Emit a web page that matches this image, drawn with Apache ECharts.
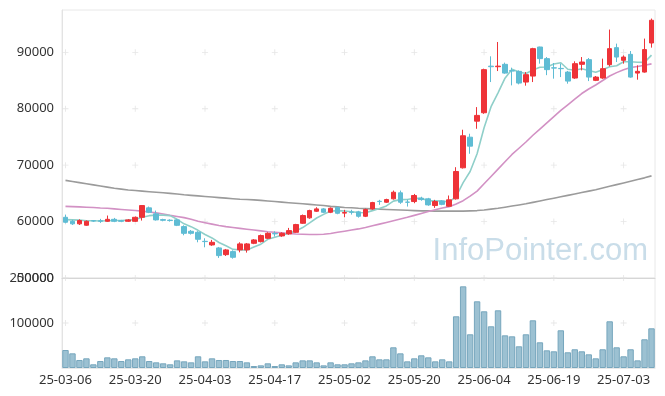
<!DOCTYPE html>
<html><head><meta charset="utf-8">
<script src="https://cdn.jsdelivr.net/npm/echarts@6.0.0/dist/echarts.min.js"></script>
<style>html,body{margin:0;padding:0;background:#fff}#c{width:665px;height:396px}</style>
</head><body><div id="c"></div>
<script>
const dates = ['25-03-06','25-03-07','25-03-10','25-03-11','25-03-12','25-03-13','25-03-14','25-03-17','25-03-18','25-03-19',
'25-03-20','25-03-21','25-03-24','25-03-25','25-03-26','25-03-27','25-03-28','25-03-31','25-04-01','25-04-02',
'25-04-03','25-04-04','25-04-07','25-04-08','25-04-09','25-04-10','25-04-11','25-04-14','25-04-15','25-04-16',
'25-04-17','25-04-18','25-04-21','25-04-22','25-04-23','25-04-24','25-04-25','25-04-28','25-04-29','25-04-30',
'25-05-02','25-05-07','25-05-08','25-05-09','25-05-12','25-05-13','25-05-14','25-05-15','25-05-16','25-05-19',
'25-05-20','25-05-21','25-05-22','25-05-23','25-05-26','25-05-27','25-05-28','25-05-29','25-05-30','25-06-02',
'25-06-04','25-06-05','25-06-09','25-06-10','25-06-11','25-06-12','25-06-13','25-06-16','25-06-17','25-06-18',
'25-06-19','25-06-20','25-06-23','25-06-24','25-06-25','25-06-26','25-06-27','25-06-30','25-07-01','25-07-02',
'25-07-03','25-07-04','25-07-07','25-07-08','25-07-09'];

// [open, close, low, high]
const ohlc = [
[60760,59880,59700,61240],[60050,59600,59400,60300],[59600,60180,59400,60400],[59350,60050,59250,60200],[60150,60100,59950,60250],
[60150,60050,59770,60480],[60050,60400,59950,61070],[60400,60050,59900,60650],[60150,60050,59900,60300],[60050,60300,59950,60450],
[60050,60760,59950,60900],[60760,62840,60180,62900],[62430,61650,61500,62660],[61370,60300,60180,61950],[60350,60230,60050,60500],
[60250,60180,60000,60400],[60300,59340,59200,60400],[59110,57920,57570,59340],[58280,57920,57700,58500],[58100,56860,56330,58300],
[56500,56450,55440,57040],[55860,56330,55700,56750],[55330,53970,53560,55500],[54140,54980,53900,55150],[54680,53670,53430,54900],
[54980,56040,54550,56330],[54980,56040,54500,56200],[56150,56750,56000,56900],[56450,57520,56300,57700],[57040,57920,56900,58100],
[57900,57820,57340,58280],[57460,57920,57300,58100],[57820,58400,57650,58880],[58100,59470,58000,59600],[59700,61070,59600,61250],
[60660,61950,60500,62100],[61830,62250,61700,62540],[62250,61650,61500,62400],[61650,62360,61500,62500],[62500,61470,61300,62650],
[61500,61600,60760,62080],[61700,61650,61240,62080],[61720,60940,60700,61900],[60940,62130,60800,62300],[62250,63370,62100,63500],
[63600,63550,62960,63850],[63430,63900,63300,64050],[64030,65200,63900,65500],[65100,63430,63140,65500],[63450,63430,62660,63900],
[63550,64620,63250,64900],[64140,63900,63700,64400],[64030,62960,62800,64200],[62840,63550,62430,63850],[63650,63050,62900,63800],
[62720,63850,62600,64620],[64030,68880,63900,69640],[69530,75210,69400,76280],[74960,73370,72020,75570],[77800,78820,76450,80290],
[79290,86930,79100,87100],[87550,87450,84730,89290],[87450,87550,86680,91830],[87870,86320,86200,88170],[86750,86680,84140,87280],
[86625,84550,84320,86800],[84730,86040,84090,86500],[85790,90650,84730,90800],[90940,88880,87990,91000],[88880,86930,85950,89160],
[87250,87210,85330,88100],[87150,87100,85610,87990],[86500,84900,84440,86700],[85440,87990,85300,88400],[87870,88280,86800,89160],
[88700,85610,84900,88990],[85030,85610,84900,85800],[85440,87100,85300,88880],[87810,90650,87510,94030],[90830,89160,88280,91540],
[88580,89160,87990,89460],[89640,85610,85500,90230],[86320,86625,85150,87690],[86500,90480,86400,92430],[91650,95680,90830,95980]
];

const ma5 = [60350,60300,60250,60150,60150,60100,60150,60200,60200,60250,
60350,60750,61050,61150,61150,61050,60400,59600,59100,58450,
57700,57100,56300,55720,55080,55000,54940,55500,56000,56850,
57210,57590,57920,58310,58940,59760,60630,61280,61860,61940,
61870,61750,61600,61560,61940,62330,62780,63630,63890,63900,
64120,64120,63670,63690,63620,63460,64460,66910,68870,72030,
76640,80360,82820,85410,86990,86510,86230,86850,87360,87410,
87940,88150,87000,86830,87100,86780,86480,86920,87450,87630,
88340,88340,88240,88210,89510];

const ma20 = [62700,62650,62600,62550,62500,62400,62350,62250,62150,62050,
61950,61850,61700,61550,61350,61100,60900,60700,60400,60050,
59800,59550,59300,59100,58950,58800,58650,58500,58350,58200,
58100,58000,57900,57800,57750,57700,57700,57750,57900,58100,
58300,58500,58700,58950,59250,59550,59850,60150,60450,60750,
61100,61450,61800,62100,62400,62650,63100,63700,64500,65400,
66700,68000,69300,70600,71900,73000,74100,75300,76400,77500,
78600,79700,80700,81700,82700,83500,84200,85000,85800,86400,
86900,87300,87500,87700,87950];

const ma120 = [67300,67100,66900,66700,66500,66300,66100,65900,65750,65600,
65500,65400,65300,65200,65100,65000,64900,64750,64650,64550,
64450,64350,64250,64150,64050,63950,63900,63850,63750,63650,
63550,63450,63350,63250,63150,63050,62950,62850,62700,62600,
62500,62450,62350,62300,62250,62200,62150,62100,62050,62000,
61950,61900,61900,61850,61850,61850,61850,61850,61900,61950,
62050,62200,62350,62550,62750,62950,63150,63400,63650,63900,
64150,64400,64650,64900,65150,65400,65650,65950,66250,66550,
66850,67150,67450,67750,68100];

const volume = [40000,32600,17800,21500,8200,15500,23700,21500,15500,19300,
21500,26000,15500,12600,10400,8200,17000,14800,12600,26000,
14800,21500,17800,17800,15500,15500,12600,4400,5900,10400,
4400,8200,5900,12600,17000,17000,12600,5900,12600,8200,
8200,10400,12600,17000,26000,19300,19300,46000,32600,14800,
21500,28200,23700,14800,19300,14800,114900,181500,74900,148200,
126000,92700,128200,72600,70400,48200,74900,106000,57100,39300,
37100,83800,34900,41600,37100,30400,21500,41600,103800,46000,
26000,41600,17000,63800,88200];

const priceTicks = [50000,60000,70000,80000,90000];
const volumeTicks = [100000];
const labelStep = 10;

const RED = '#ee3338', BLUE = '#5fbcd4';
const plus = 'path://M3,0h1v3h3v1h-3v3h-1v-3h-3v-1h3z';
const markIdx = dates.map((d,i)=>i).filter(i=>i%labelStep===0);
const priceMarks = [], volMarks = [];
markIdx.forEach(i=>{ priceTicks.forEach(v=>priceMarks.push([i,v])); volumeTicks.forEach(v=>volMarks.push([i,v])); });

const chart = echarts.init(document.getElementById('c'), null, {renderer:'canvas'});
const labelFont = {color:'#333', fontSize:13, fontFamily:'Noto Sans'};
const plain = v => String(v);
chart.setOption({
  animation:false,
  backgroundColor:'#fff',
  graphic:[{type:'text', right:17, top:236, z:0, silent:true,
    style:{text:'InfoPointer.com', fill:'#c9dde9', font:'31px "Liberation Sans"'}}],
  grid:[
    {left:62, right:10, top:10, height:268, show:true, borderColor:'#e8e8e8', borderWidth:1},
    {left:62, right:10, top:278, height:90, show:true, borderColor:'#e8e8e8', borderWidth:1}
  ],
  xAxis:[
    {type:'category', gridIndex:0, data:dates, boundaryGap:true,
     axisLine:{show:true, lineStyle:{color:'#d6d6d6'}}, axisTick:{show:false}, axisLabel:{show:false}, splitLine:{show:false}},
    {type:'category', gridIndex:1, data:dates, boundaryGap:true,
     axisLine:{show:true, lineStyle:{color:'#e8e8e8'}}, axisTick:{show:false},
     axisLabel:Object.assign({interval:labelStep-1, margin:6}, labelFont), splitLine:{show:false}}
  ],
  yAxis:[
    {type:'value', gridIndex:0, min:50000, max:97500, interval:10000, scale:true,
     axisLine:{show:true, lineStyle:{color:'#e3e3e3'}}, axisTick:{show:false}, splitLine:{show:false},
     axisLabel:Object.assign({showMaxLabel:false, showMinLabel:true, margin:8, formatter:plain}, labelFont)},
    {type:'value', gridIndex:1, min:0, max:200000, interval:100000,
     axisLine:{show:true, lineStyle:{color:'#e3e3e3'}}, axisTick:{show:false}, splitLine:{show:false},
     axisLabel:Object.assign({showMaxLabel:true, showMinLabel:false, margin:8, formatter:plain}, labelFont)}
  ],
  series:[
    {type:'scatter', xAxisIndex:0, yAxisIndex:0, data:priceMarks, symbol:plus, symbolSize:6, silent:true, z:1,
     itemStyle:{color:'#e0e0e0'}},
    {type:'scatter', xAxisIndex:1, yAxisIndex:1, data:volMarks, symbol:plus, symbolSize:6, silent:true, z:1,
     itemStyle:{color:'#e0e0e0'}},
    {type:'line', name:'MA120', data:ma120, showSymbol:false, silent:true, z:2, lineStyle:{color:'#9b9b9b', width:1.6}},
    {type:'line', name:'MA20', data:ma20, showSymbol:false, silent:true, z:2, lineStyle:{color:'#d291c4', width:1.6}},
    {type:'line', name:'MA5', data:ma5, showSymbol:false, silent:true, z:2, lineStyle:{color:'#8fcfc9', width:1.6}},
    {type:'candlestick', data:ohlc, barWidth:'74%', z:3,
     itemStyle:{color:RED, color0:BLUE, borderColor:RED, borderColor0:BLUE, borderWidth:1}},
    {type:'bar', xAxisIndex:1, yAxisIndex:1, data:volume, barCategoryGap:'8%', z:2,
     itemStyle:{color:'#9cc1d2', borderColor:'#76a6bd', borderWidth:1}}
  ]
});
</script></body></html>
